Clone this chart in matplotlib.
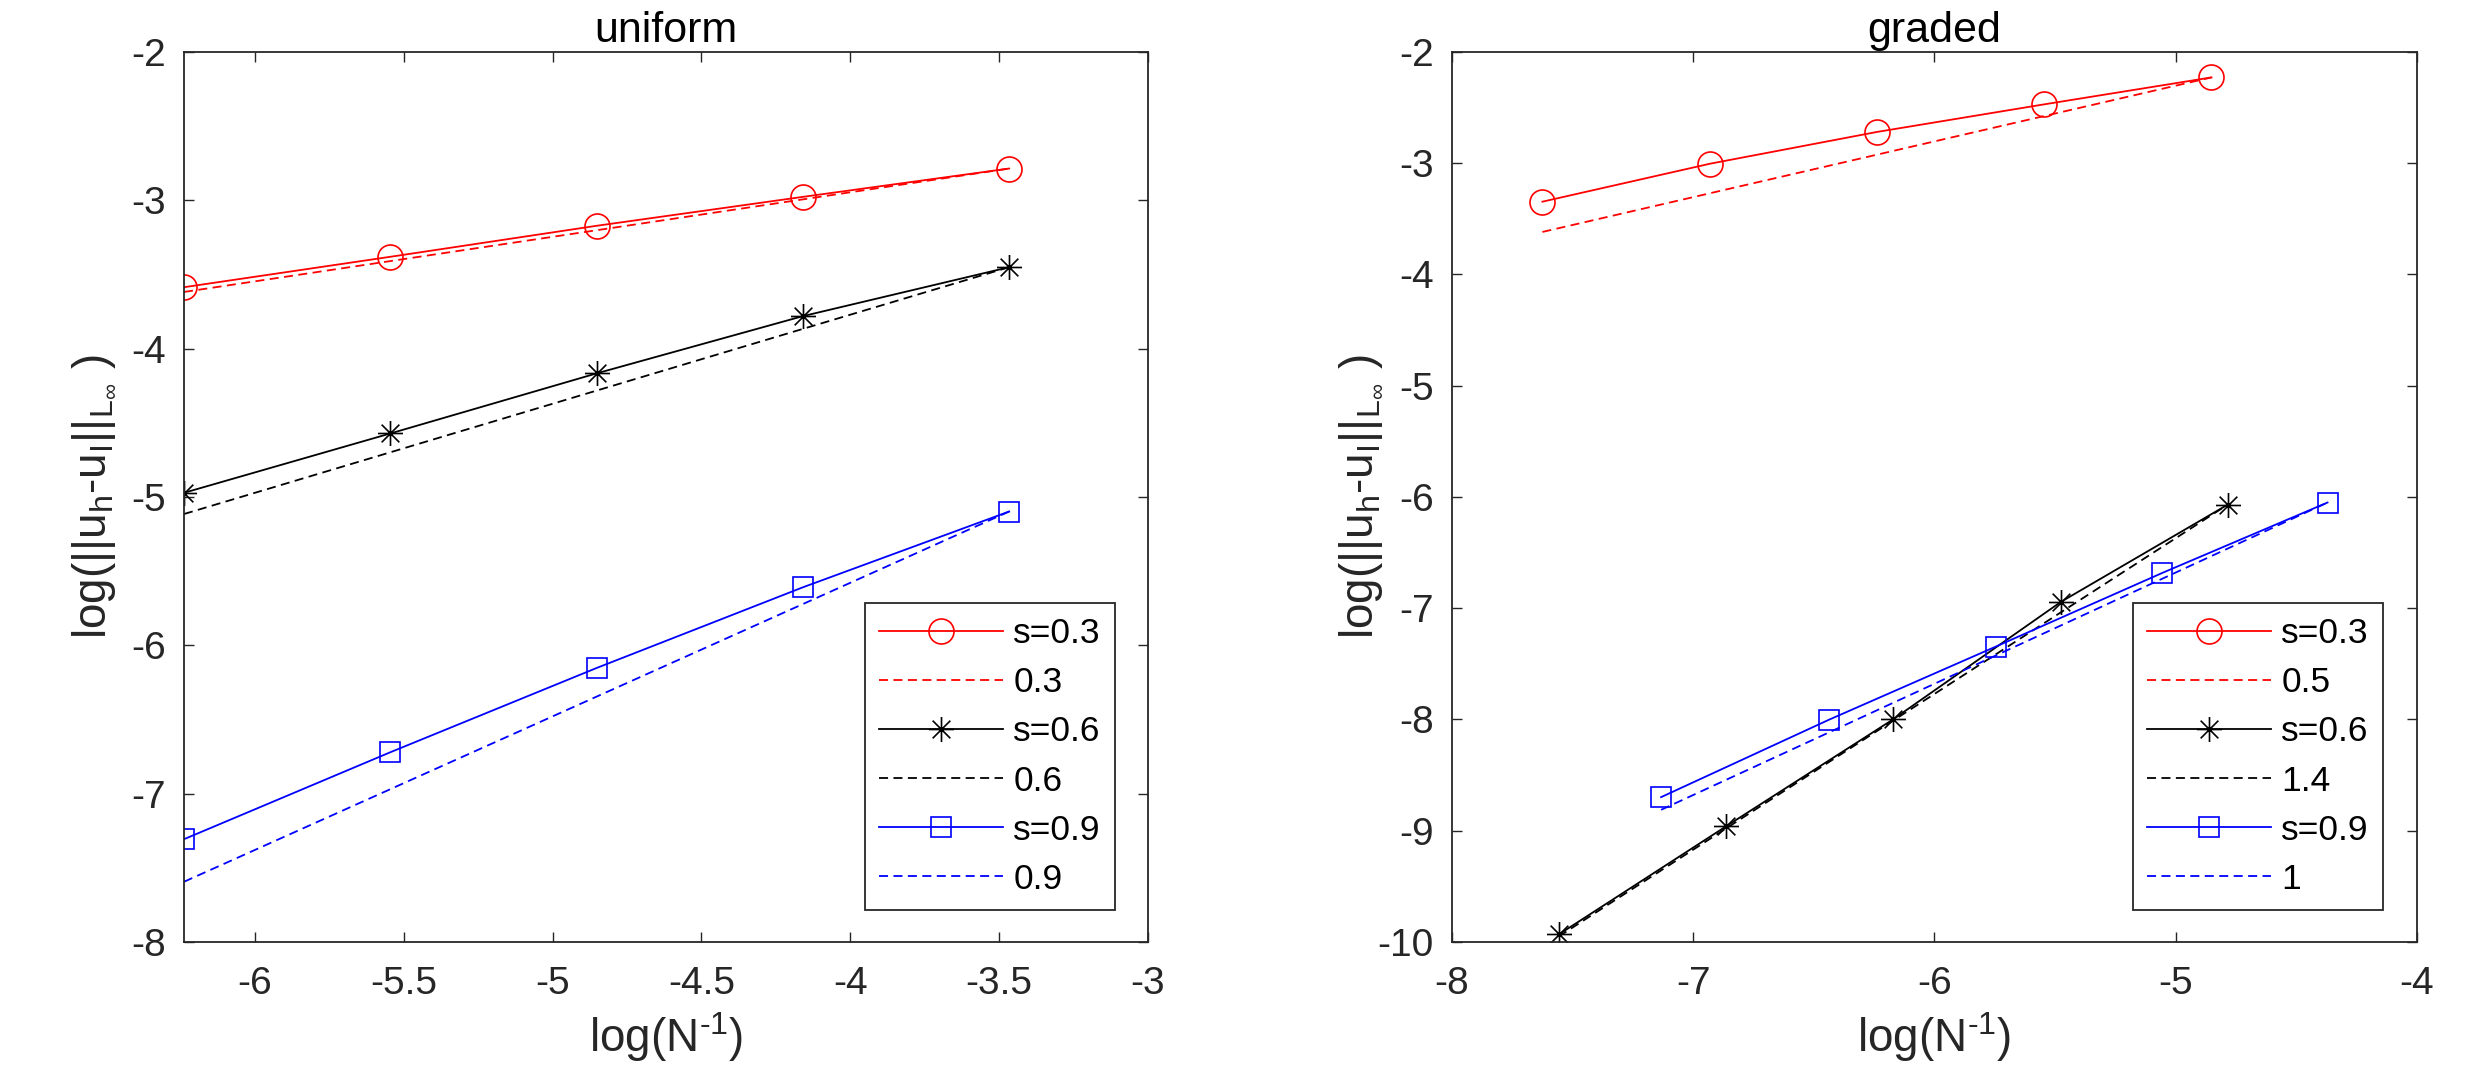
import matplotlib
matplotlib.use("Agg")
import matplotlib.pyplot as plt
from matplotlib.path import Path

plt.rcParams['font.family'] = ['Liberation Sans', 'DejaVu Sans']
plt.rcParams['mathtext.fontset'] = 'custom'
plt.rcParams['mathtext.rm'] = 'Liberation Sans'
plt.rcParams['mathtext.it'] = 'Liberation Sans:italic'
plt.rcParams['mathtext.bf'] = 'Liberation Sans:bold'
plt.rcParams['axes.unicode_minus'] = False

# ---------------- data ----------------
# uniform mesh
x_uniform = [-6.238, -5.545, -4.852, -4.159, -3.466]
y_uni_s03 = [-3.586, -3.381, -3.172, -2.977, -2.786]
y_uni_s06 = [-4.972, -4.572, -4.167, -3.781, -3.451]
y_uni_s09 = [-7.307, -6.721, -6.153, -5.609, -5.098]
# reference slopes (endpoints)
xref_uniform = [-6.238, -3.466]
yref_uni_03 = [-3.618, -2.786]
yref_uni_06 = [-5.115, -3.451]
yref_uni_09 = [-7.594, -5.098]
labels_uniform = ['s=0.3', '0.3', 's=0.6', '0.6', 's=0.9', '0.9']

# graded mesh
x_gra_s03 = [-7.625, -6.931, -6.238, -5.545, -4.852]
y_gra_s03 = [-3.346, -3.005, -2.719, -2.471, -2.229]
x_gra_s06 = [-7.557, -6.862, -6.170, -5.476, -4.784]
y_gra_s06 = [-9.932, -8.958, -7.997, -6.943, -6.068]
x_gra_s09 = [-7.133, -6.438, -5.747, -5.055, -4.371]
y_gra_s09 = [-8.698, -8.003, -7.346, -6.682, -6.050]
xref_gra_03 = [-7.625, -4.852]
yref_gra_03 = [-3.618, -2.229]
xref_gra_06 = [-7.557, -4.784]
yref_gra_06 = [-9.950, -6.068]
xref_gra_09 = [-7.133, -4.371]
yref_gra_09 = [-8.812, -6.050]
labels_graded = ['s=0.3', '0.5', 's=0.6', '1.4', 's=0.9', '1']

uni_xticks = [-6, -5.5, -5, -4.5, -4, -3.5, -3]
uni_xticklabels = ['-6', '-5.5', '-5', '-4.5', '-4', '-3.5', '-3']
uni_yticks = [-8, -7, -6, -5, -4, -3, -2]
gra_xticks = [-8, -7, -6, -5, -4]
gra_yticks = [-10, -9, -8, -7, -6, -5, -4, -3, -2]

# ---------------- style ----------------
star = Path([(-1, 0), (1, 0), (0, -1), (0, 1),
             (-0.7071, -0.7071), (0.7071, 0.7071),
             (-0.7071, 0.7071), (0.7071, -0.7071)],
            [Path.MOVETO, Path.LINETO] * 4)
AX = '#262626'
LW = 1.3
DASH = (0, (5.0, 3.0))
LEG_FS = 25.5

W, H = 2490, 1082
fig = plt.figure(figsize=(W / 100, H / 100), dpi=100)
ax1 = fig.add_axes([0.0739, 0.1294, 0.3871, 0.8226])
ax2 = fig.add_axes([0.5831, 0.1294, 0.3876, 0.8226])

def solid(ax, x, y, color, marker, ms):
    return ax.plot(x, y, color=color, lw=LW, marker=marker, ms=ms,
                   mfc='none', mec=color, mew=1.2)[0]

def dashed(ax, x, y, color):
    return ax.plot(x, y, color=color, lw=LW, linestyle=DASH)[0]

h1 = [solid(ax1, x_uniform, y_uni_s03, 'red', 'o', 18),
      dashed(ax1, xref_uniform, yref_uni_03, 'red'),
      solid(ax1, x_uniform, y_uni_s06, 'black', star, 18),
      dashed(ax1, xref_uniform, yref_uni_06, 'black'),
      solid(ax1, x_uniform, y_uni_s09, 'blue', 's', 15),
      dashed(ax1, xref_uniform, yref_uni_09, 'blue')]

h2 = [solid(ax2, x_gra_s03, y_gra_s03, 'red', 'o', 18),
      dashed(ax2, xref_gra_03, yref_gra_03, 'red'),
      solid(ax2, x_gra_s06, y_gra_s06, 'black', star, 18),
      dashed(ax2, xref_gra_06, yref_gra_06, 'black'),
      solid(ax2, x_gra_s09, y_gra_s09, 'blue', 's', 15),
      dashed(ax2, xref_gra_09, yref_gra_09, 'blue')]

ax1.set_xlim(x_uniform[0], -3)
ax1.set_ylim(-8, -2)
ax1.set_xticks(uni_xticks)
ax1.set_xticklabels(uni_xticklabels)
ax1.set_yticks(uni_yticks)
ax2.set_xlim(-8, -4)
ax2.set_ylim(-10, -2)
ax2.set_xticks(gra_xticks)
ax2.set_yticks(gra_yticks)

ylab = r'log(||u$_\mathrm{h}$-u$_\mathrm{I}$||$_{\mathrm{L}_{\infty}}\ $)'
xlab = r'log(N$^{\text{-1}}$)'

def make_legend(ax, handles, labels, right, ls, hl):
    leg = ax.legend(handles, labels, loc='lower right',
                    bbox_to_anchor=(right, 0.036), borderaxespad=0,
                    fontsize=LEG_FS, handlelength=hl, handletextpad=0.3,
                    labelspacing=ls, borderpad=0.4, fancybox=False,
                    framealpha=1, edgecolor=AX)
    leg.get_frame().set_linewidth(1.3)
    return leg

setups = [(ax1, 'uniform', h1, labels_uniform, 0.9658),
          (ax2, 'graded', h2, labels_graded, 0.9648)]

for ax, title, handles, labels, right in setups:
    for sp in ax.spines.values():
        sp.set_color(AX)
        sp.set_linewidth(1.3)
    ax.tick_params(direction='in', length=7, width=1.0, color=AX,
                   labelcolor=AX, labelsize=28, top=True, right=True)
    ax.tick_params(axis='x', pad=17)
    ax.tick_params(axis='y', pad=13)
    ax.set_title(title, fontsize=31, pad=7.5, color='black')
    ax.set_xlabel(xlab, fontsize=33, color=AX, labelpad=6)
    ax.set_ylabel(ylab, fontsize=33, color=AX)
    ax.yaxis.set_label_coords(-0.07, 0.5)

# fit legend box to the reference size (about 250 x 307 px)
fs_px = LEG_FS * 100 / 72
for ax, title, handles, labels, right in setups:
    ls, hl = 0.5, 3.5
    for _ in range(3):
        leg = make_legend(ax, handles, labels, right, ls, hl)
        fig.canvas.draw()
        bb = leg.get_window_extent(fig.canvas.get_renderer())
        ls += (307 - bb.height) / (5 * fs_px)
        hl += (250 - bb.width) / fs_px
    make_legend(ax, handles, labels, right, ls, hl)

fig.savefig('out.png', dpi=100, facecolor='white')
